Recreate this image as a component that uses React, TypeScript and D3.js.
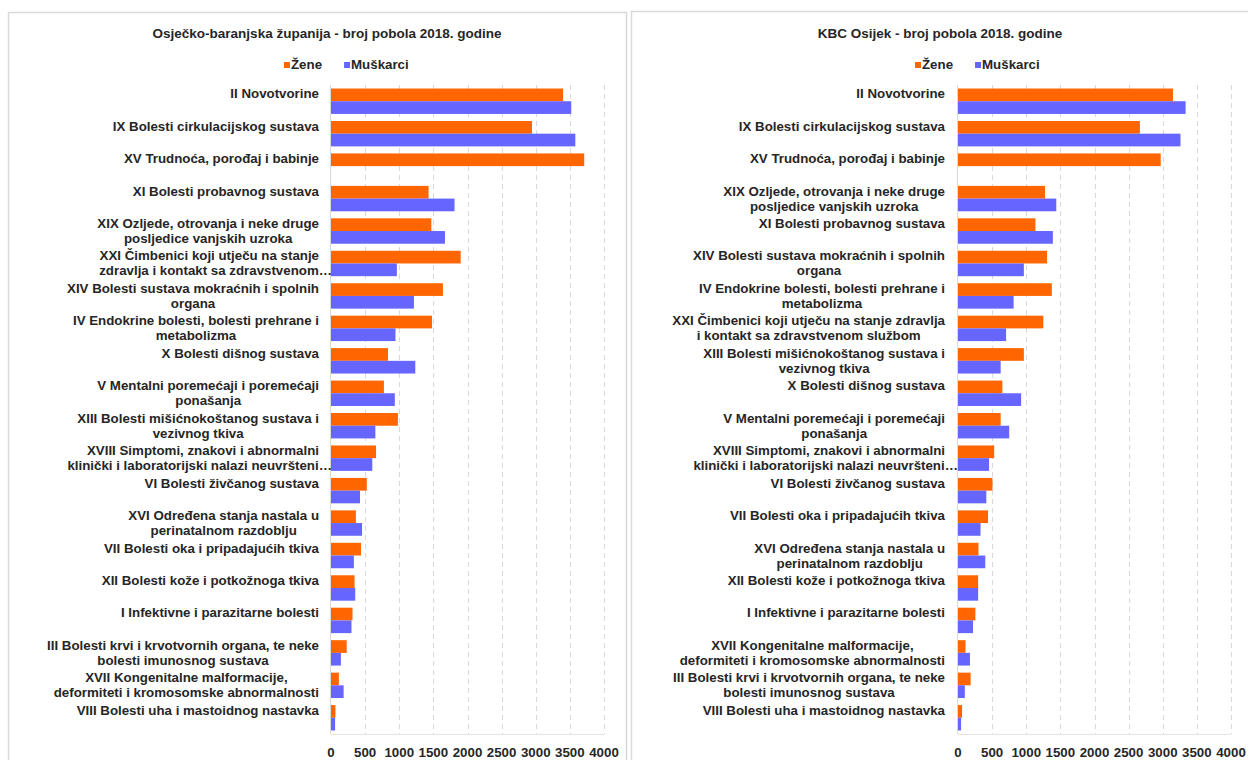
import React, { useEffect, useRef } from 'react';
import * as d3 from 'd3';

const seriesNames = ['Žene', 'Muškarci'];
const seriesColors = ['#FF6600', '#6666FF'];
const xTicks = [0, 500, 1000, 1500, 2000, 2500, 3000, 3500, 4000];

const leftTitle = 'Osječko-baranjska županija - broj pobola 2018. godine';
const leftCategories = [
  'II Novotvorine',
  'IX Bolesti cirkulacijskog sustava',
  'XV Trudnoća, porođaj i babinje',
  'XI Bolesti probavnog sustava',
  'XIX Ozljede, otrovanja i neke druge\nposljedice vanjskih uzroka',
  'XXI Čimbenici koji utječu na stanje\nzdravlja i kontakt sa zdravstvenom…',
  'XIV Bolesti sustava mokraćnih i spolnih\norgana',
  'IV Endokrine bolesti, bolesti prehrane i\nmetabolizma',
  'X Bolesti dišnog sustava',
  'V Mentalni poremećaji i poremećaji\nponašanja',
  'XIII Bolesti mišićnokoštanog sustava i\nvezivnog tkiva',
  'XVIII Simptomi, znakovi i abnormalni\nklinički i laboratorijski nalazi neuvršteni…',
  'VI Bolesti živčanog sustava',
  'XVI Određena stanja nastala u\nperinatalnom razdoblju',
  'VII Bolesti oka i pripadajućih tkiva',
  'XII Bolesti kože i potkožnoga tkiva',
  'I Infektivne i parazitarne bolesti',
  'III Bolesti krvi i krvotvornih organa, te neke\nbolesti imunosnog sustava',
  'XVII Kongenitalne malformacije,\ndeformiteti i kromosomske abnormalnosti',
  'VIII Bolesti uha i mastoidnog nastavka',
];
const leftZene = [3400, 2945, 3710, 1430, 1470, 1900, 1640, 1480, 835, 775, 980, 660, 525, 365, 440, 345, 315, 230, 115, 65];
const leftMuskarci = [3520, 3580, 0, 1810, 1670, 965, 1215, 945, 1235, 935, 650, 605, 425, 455, 335, 355, 300, 145, 185, 60];

const rightTitle = 'KBC Osijek - broj pobola 2018. godine';
const rightCategories = [
  'II Novotvorine',
  'IX Bolesti cirkulacijskog sustava',
  'XV Trudnoća, porođaj i babinje',
  'XIX Ozljede, otrovanja i neke druge\nposljedice vanjskih uzroka',
  'XI Bolesti probavnog sustava',
  'XIV Bolesti sustava mokraćnih i spolnih\norgana',
  'IV Endokrine bolesti, bolesti prehrane i\nmetabolizma',
  'XXI Čimbenici koji utječu na stanje zdravlja\ni kontakt sa zdravstvenom službom',
  'XIII Bolesti mišićnokoštanog sustava i\nvezivnog tkiva',
  'X Bolesti dišnog sustava',
  'V Mentalni poremećaji i poremećaji\nponašanja',
  'XVIII Simptomi, znakovi i abnormalni\nklinički i laboratorijski nalazi neuvršteni…',
  'VI Bolesti živčanog sustava',
  'VII Bolesti oka i pripadajućih tkiva',
  'XVI Određena stanja nastala u\nperinatalnom razdoblju',
  'XII Bolesti kože i potkožnoga tkiva',
  'I Infektivne i parazitarne bolesti',
  'XVII Kongenitalne malformacije,\ndeformiteti i kromosomske abnormalnosti',
  'III Bolesti krvi i krvotvornih organa, te neke\nbolesti imunosnog sustava',
  'VIII Bolesti uha i mastoidnog nastavka',
];
const rightZene = [3150, 2665, 2970, 1275, 1135, 1305, 1375, 1250, 965, 650, 625, 530, 505, 440, 300, 295, 255, 110, 185, 60];
const rightMuskarci = [3335, 3260, 0, 1440, 1390, 965, 815, 705, 625, 925, 750, 455, 415, 330, 400, 295, 220, 175, 100, 45];

const FONT = '"Liberation Sans", Arial, sans-serif';
const TEXT = '#262626';
const FS = 13.3;

type PanelCfg = {
  frameX: number;
  frameY: number;
  frameW: number;
  title: string;
  titleX: number;
  legendX: number;
  labelRight: number;
  x0: number;
  x1: number;
  categories: string[];
  zene: number[];
  muskarci: number[];
};

function drawPanel(svg: d3.Selection<SVGSVGElement, unknown, null, undefined>, cfg: PanelCfg) {
  const g = svg.append('g');
  g.append('rect')
    .attr('x', cfg.frameX + 0.5)
    .attr('y', cfg.frameY + 0.5)
    .attr('width', cfg.frameW)
    .attr('height', 800)
    .attr('fill', '#fff')
    .attr('stroke', '#d9d9d9')
    .attr('stroke-width', 1.5);

  g.append('text')
    .attr('x', cfg.titleX)
    .attr('y', 38)
    .attr('text-anchor', 'middle')
    .attr('font-family', FONT)
    .attr('font-weight', 'bold')
    .attr('font-size', 13.5)
    .attr('fill', TEXT)
    .text(cfg.title);

  // legend
  const lg = g.append('g').attr('transform', `translate(${cfg.legendX},0)`);
  let lx = 0;
  seriesNames.forEach((name, i) => {
    lg.append('rect').attr('x', lx).attr('y', 62).attr('width', 6).attr('height', 6).attr('fill', seriesColors[i]);
    const t = lg.append('text')
      .attr('x', lx + 7)
      .attr('y', 68.5)
      .attr('font-family', FONT)
      .attr('font-weight', 'bold')
      .attr('font-size', FS)
      .attr('fill', TEXT)
      .text(name);
    const w = (t.node() as SVGTextElement).getComputedTextLength();
    lx += 7 + w + 22;
  });

  const top = 85;
  const bottom = 734;
  const x = d3.scaleLinear().domain([0, 4000]).range([cfg.x0, cfg.x1]);
  const y = d3.scaleBand<string>().domain(cfg.categories).range([top, bottom]).paddingInner(0.217).paddingOuter(0.1085);
  const ySub = d3.scaleBand<string>().domain(seriesNames).range([0, y.bandwidth()]);

  // gridlines
  g.append('g')
    .selectAll('line')
    .data(xTicks.filter((d) => d > 0))
    .join('line')
    .attr('x1', (d) => Math.round(x(d)) + 0.5)
    .attr('x2', (d) => Math.round(x(d)) + 0.5)
    .attr('y1', top)
    .attr('y2', bottom)
    .attr('stroke', '#d9d9d9')
    .attr('stroke-dasharray', '5,4');
  g.append('line')
    .attr('x1', cfg.x0)
    .attr('x2', cfg.x1)
    .attr('y1', bottom + 0.5)
    .attr('y2', bottom + 0.5)
    .attr('stroke', '#e3e3e3');

  const seriesData = [cfg.zene, cfg.muskarci];
  seriesNames.forEach((name, si) => {
    g.append('g')
      .selectAll('rect')
      .data(cfg.categories.map((c, i) => ({ c, v: seriesData[si][i] })))
      .join('rect')
      .attr('x', x(0))
      .attr('y', (d) => (y(d.c) as number) + (ySub(name) as number))
      .attr('width', (d) => Math.max(0, x(d.v) - x(0)))
      .attr('height', ySub.bandwidth())
      .attr('fill', seriesColors[si]);
  });

  // axis line
  g.append('line')
    .attr('x1', Math.round(x(0)) - 0.5)
    .attr('x2', Math.round(x(0)) - 0.5)
    .attr('y1', top)
    .attr('y2', bottom)
    .attr('stroke', '#d9d9d9');

  // tick labels
  g.append('g')
    .selectAll('text')
    .data(xTicks)
    .join('text')
    .attr('x', (d) => x(d))
    .attr('y', 756.5)
    .attr('text-anchor', 'middle')
    .attr('font-family', FONT)
    .attr('font-weight', 'bold')
    .attr('font-size', FS)
    .attr('fill', TEXT)
    .text((d) => String(d));

  // category labels
  const labels = g.append('g');
  cfg.categories.forEach((c) => {
    const lines = c.split('\n');
    const cy = (y(c) as number) + y.bandwidth() / 2;
    const texts = lines.map((ln, k) =>
      labels.append('text')
        .attr('y', cy - 3 + k * 15)
        .attr('font-family', FONT)
        .attr('font-weight', 'bold')
        .attr('font-size', FS)
        .attr('fill', TEXT)
        .text(ln)
    );
    const widths = texts.map((t) => (t.node() as SVGTextElement).getComputedTextLength());
    const normal = widths.filter((_, k) => !lines[k].endsWith('…'));
    const blockW = normal.length ? Math.max(...normal) : widths[0];
    const center = cfg.labelRight - blockW / 2;
    texts.forEach((t, k) => {
      if (lines[k].endsWith('…')) {
        t.attr('x', cfg.labelRight + 13).attr('text-anchor', 'end');
      } else {
        t.attr('x', center).attr('text-anchor', 'middle');
      }
    });
  });
}

export default function App() {
  const ref = useRef<SVGSVGElement>(null);
  useEffect(() => {
    const svg = d3.select(ref.current as SVGSVGElement);
    svg.selectAll('*').remove();
    svg.append('rect').attr('width', 1248).attr('height', 760).attr('fill', '#fff');
    drawPanel(svg, {
      frameX: 8,
      frameY: 12,
      frameW: 618,
      title: leftTitle,
      titleX: 327,
      legendX: 284,
      labelRight: 319,
      x0: 331,
      x1: 604,
      categories: leftCategories,
      zene: leftZene,
      muskarci: leftMuskarci,
    });
    drawPanel(svg, {
      frameX: 631,
      frameY: 11,
      frameW: 640,
      title: rightTitle,
      titleX: 940,
      legendX: 915,
      labelRight: 945,
      x0: 958,
      x1: 1231,
      categories: rightCategories,
      zene: rightZene,
      muskarci: rightMuskarci,
    });
  }, []);
  return (
    <svg
      ref={ref}
      width={1248}
      height={760}
      style={{ position: 'absolute', left: 0, top: 0, display: 'block' }}
    />
  );
}
